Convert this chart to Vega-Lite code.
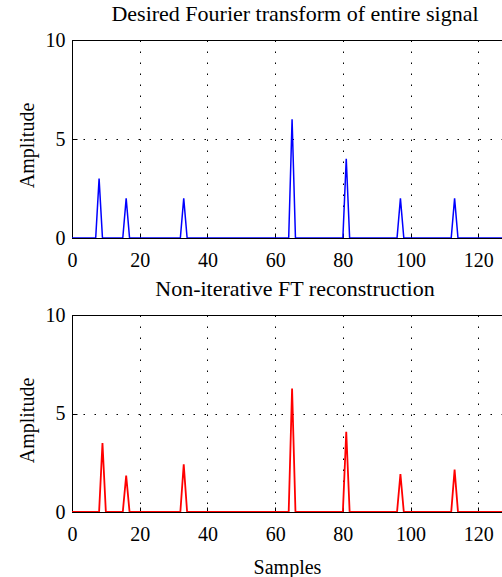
{
  "$schema": "https://vega.github.io/schema/vega-lite/v6.json",
  "autosize": {"type": "none"},
  "padding": {"left": 72, "top": 40, "right": 0, "bottom": 537},
  "background": "white",
  "datasets": {
    "desired": [
      {"sample": 0, "amplitude": 0}, {"sample": 7, "amplitude": 0}, {"sample": 8, "amplitude": 3}, {"sample": 9, "amplitude": 0},
      {"sample": 15, "amplitude": 0}, {"sample": 16, "amplitude": 2}, {"sample": 17, "amplitude": 0},
      {"sample": 32, "amplitude": 0}, {"sample": 33, "amplitude": 2}, {"sample": 34, "amplitude": 0},
      {"sample": 64, "amplitude": 0}, {"sample": 65, "amplitude": 6}, {"sample": 66, "amplitude": 0},
      {"sample": 80, "amplitude": 0}, {"sample": 81, "amplitude": 4}, {"sample": 82, "amplitude": 0},
      {"sample": 96, "amplitude": 0}, {"sample": 97, "amplitude": 2}, {"sample": 98, "amplitude": 0},
      {"sample": 112, "amplitude": 0}, {"sample": 113, "amplitude": 2}, {"sample": 114, "amplitude": 0},
      {"sample": 127, "amplitude": 0}
    ],
    "recon": [
      {"sample": 0, "amplitude": 0}, {"sample": 8, "amplitude": 0}, {"sample": 9, "amplitude": 3.5}, {"sample": 10, "amplitude": 0},
      {"sample": 15, "amplitude": 0}, {"sample": 16, "amplitude": 1.85}, {"sample": 17, "amplitude": 0},
      {"sample": 32, "amplitude": 0}, {"sample": 33, "amplitude": 2.42}, {"sample": 34, "amplitude": 0},
      {"sample": 64, "amplitude": 0}, {"sample": 65, "amplitude": 6.27}, {"sample": 66, "amplitude": 0},
      {"sample": 80, "amplitude": 0}, {"sample": 81, "amplitude": 4.07}, {"sample": 82, "amplitude": 0},
      {"sample": 96, "amplitude": 0}, {"sample": 97, "amplitude": 1.93}, {"sample": 98, "amplitude": 0},
      {"sample": 112, "amplitude": 0}, {"sample": 113, "amplitude": 2.15}, {"sample": 114, "amplitude": 0},
      {"sample": 127, "amplitude": 0}
    ]
  },
  "config": {
    "font": "Liberation Serif",
    "view": {"stroke": "black", "strokeWidth": 1},
    "axis": {
      "labelFont": "Liberation Serif",
      "labelFontSize": 20,
      "labelColor": "black",
      "titleFont": "Liberation Serif",
      "titleFontSize": 20,
      "titleFontWeight": "normal",
      "titleColor": "black",
      "domainColor": "black",
      "domainWidth": 1,
      "tickColor": "black",
      "tickSize": -5,
      "gridColor": "black",
      "gridOpacity": 1,
      "gridWidth": 1,
      "gridDash": [1.5, 9.5]
    },
    "title": {
      "font": "Liberation Serif",
      "fontSize": 22,
      "fontWeight": "normal",
      "color": "black",
      "baseline": "alphabetic",
      "frame": "group",
      "offset": 0,
      "dx": 8
    }
  },
  "spacing": 77,
  "bounds": "flush",
  "vconcat": [
    {
      "width": 430,
      "height": 198,
      "title": "Desired Fourier transform of entire signal",
      "data": {"name": "desired"},
      "mark": {"type": "line", "color": "#0000ff", "strokeWidth": 1.5, "clip": true},
      "encoding": {
        "x": {
          "field": "sample", "type": "quantitative",
          "scale": {"domain": [0, 127], "nice": false},
          "axis": {"values": [0, 20, 40, 60, 80, 100, 120], "title": null, "labelPadding": 17, "labelFlush": false}
        },
        "y": {
          "field": "amplitude", "type": "quantitative",
          "scale": {"domain": [0, 10], "nice": false},
          "axis": {"values": [0, 5, 10], "title": "Amplitude", "labelPadding": 12, "titleAngle": -90, "titleX": -39, "titleY": 105, "titleBaseline": "alphabetic", "titleAlign": "center", "labelFlush": false}
        }
      }
    },
    {
      "width": 430,
      "height": 197,
      "title": "Non-iterative FT reconstruction",
      "data": {"name": "recon"},
      "mark": {"type": "line", "color": "#ff0000", "strokeWidth": 1.8, "clip": true},
      "encoding": {
        "x": {
          "field": "sample", "type": "quantitative",
          "scale": {"domain": [0, 127], "nice": false},
          "axis": {"values": [0, 20, 40, 60, 80, 100, 120], "title": "Samples", "labelPadding": 17, "labelFlush": false, "titleX": 215, "titleY": 61, "titleBaseline": "alphabetic", "titleAlign": "center"}
        },
        "y": {
          "field": "amplitude", "type": "quantitative",
          "scale": {"domain": [0, 10], "nice": false},
          "axis": {"values": [0, 5, 10], "title": "Amplitude", "labelPadding": 12, "titleAngle": -90, "titleX": -39, "titleY": 105, "titleBaseline": "alphabetic", "titleAlign": "center", "labelFlush": false}
        }
      }
    }
  ]
}
